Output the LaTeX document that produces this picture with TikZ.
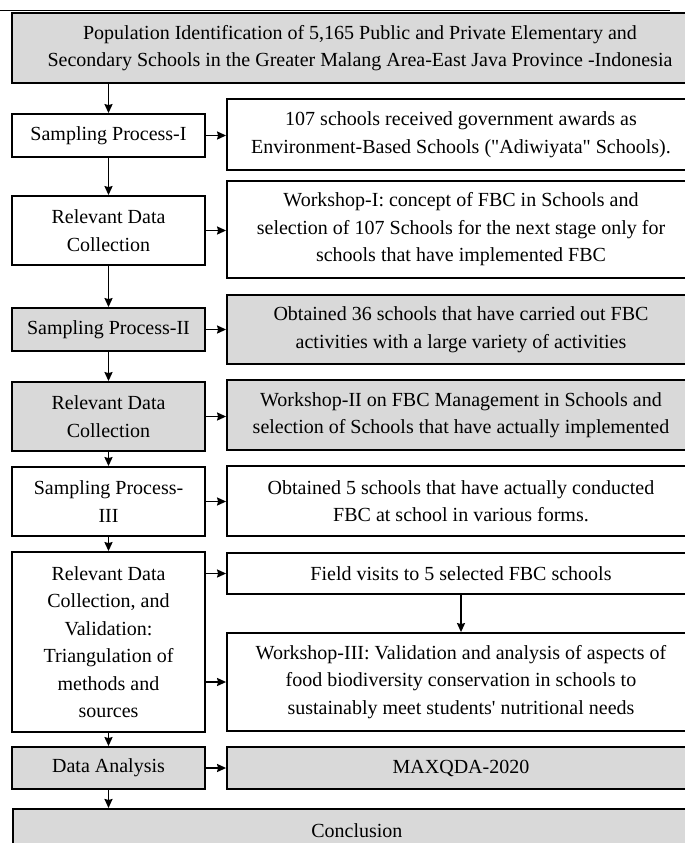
\documentclass[tikz,border=0pt]{standalone}
\usepackage{fontspec}
\setmainfont{Liberation Serif}[Ligatures=TeXOff]
\usetikzlibrary{arrows.meta}
\definecolor{boxgray}{RGB}{217,217,217}
\tikzset{
  box/.style={draw, line width=1.8pt, align=center, inner sep=2pt,
    font=\fontsize{20}{27.5}\selectfont},
  lbox/.style={box, minimum width=193},
  rbox/.style={box, minimum width=468},
  shaded/.style={fill=boxgray},
  link/.style={->, line width=1.8pt}
}
\begin{document}
\begin{tikzpicture}[>={Stealth[length=9pt,width=8pt,inset=1pt]}, x=1pt, y=-1pt]
\useasboundingbox (0,0) rectangle (685,843);
\clip (0,0) rectangle (685,843);
%Duong ke tren
\draw[line width=1.2pt] (0,10.5) -- (670,10.5);
%Khung 1
\node[box, shaded, minimum width=696, minimum height=70] (pop) at (360,48)
  {Population Identification of 5,165 Public and Private Elementary and\\
   Secondary Schools in the Greater Malang Area-East Java Province -Indonesia};
%Hang 1
\node[lbox, minimum height=43] (sp1) at (108.5,135.5) {Sampling Process-I};
\node[rbox, minimum height=71] (aw) at (461,134.5)
  {107 schools received government awards as\\
   Environment-Based Schools ("Adiwiyata" Schools).};
%Hang 2
\node[lbox, minimum height=69] (rdc1) at (108.5,230.5) {Relevant Data\\Collection};
\node[rbox, minimum height=97] (ws1) at (461,229.5)
  {Workshop-I: concept of FBC in Schools and\\
   selection of 107 Schools for the next stage only for\\
   schools that have implemented FBC};
%Hang 3
\node[lbox, shaded, minimum height=43] (sp2) at (108.5,329.5) {Sampling Process-II};
\node[rbox, shaded, minimum height=69] (ob36) at (461,329.5)
  {Obtained 36 schools that have carried out FBC\\
   activities with a large variety of activities};
%Hang 4
\node[lbox, shaded, minimum height=69] (rdc2) at (108.5,416.5) {Relevant Data\\Collection};
\node[rbox, shaded, minimum height=70] (ws2) at (461,415)
  {Workshop-II on FBC Management in Schools and\\
   selection of Schools that have actually implemented};
%Hang 5
\node[lbox, minimum height=69] (sp3) at (108.5,501.5) {Sampling Process-\\III};
\node[rbox, minimum height=70] (ob5) at (461,501)
  {Obtained 5 schools that have actually conducted\\
   FBC at school in various forms.};
%Hang 6
\node[lbox, minimum height=180] (val) at (108.5,642)
  {Relevant Data\\Collection, and\\Validation:\\Triangulation of\\methods and\\sources};
\node[rbox, minimum height=41] (fv) at (461,573.5) {Field visits to 5 selected FBC schools};
\node[rbox, minimum height=98] (ws3) at (461,682)
  {Workshop-III: Validation and analysis of aspects of\\
   food biodiversity conservation in schools to\\
   sustainably meet students' nutritional needs};
%Hang 7
\node[lbox, shaded, minimum height=42] (da) at (108.5,768) {Data Analysis};
\node[rbox, shaded, minimum height=42] (mx) at (461,768) {MAXQDA-2020};
%Ket luan
\node[box, shaded, minimum width=688, minimum height=44, anchor=north west] (concl) at (12,808) {Conclusion};
%Mui ten doc
\draw[link] (pop.south -| sp1.north) -- (sp1.north);
\draw[link] (sp1) -- (rdc1);
\draw[link] (rdc1) -- (sp2);
\draw[link] (sp2) -- (rdc2);
\draw[link] (rdc2) -- (sp3);
\draw[link] (sp3) -- (val);
\draw[link] (val) -- (da);
\draw[link] (da.south) -- (da.south |- concl.north);
\draw[link] (fv) -- (ws3);
%Mui ten ngang
\draw[link] (sp1) -- (sp1 -| aw.west);
\draw[link] (rdc1) -- (rdc1 -| ws1.west);
\draw[link] (sp2) -- (sp2 -| ob36.west);
\draw[link] (rdc2) -- (rdc2 -| ws2.west);
\draw[link] (sp3) -- (sp3 -| ob5.west);
\draw[link] (val.east |- fv) -- (fv.west);
\draw[link] (val.east |- ws3) -- (ws3.west);
\draw[link] (da) -- (da -| mx.west);
\end{tikzpicture}
\end{document}
